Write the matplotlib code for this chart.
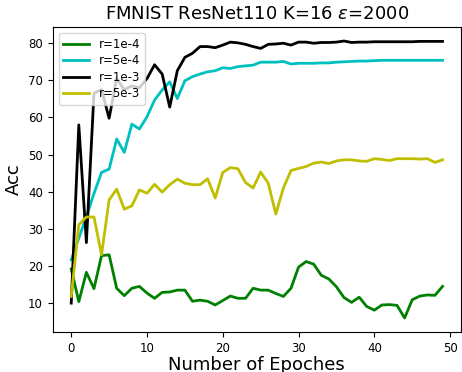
import matplotlib
matplotlib.use("Agg")
import matplotlib.pyplot as plt
import numpy as np

epochs=np.arange(50)

acc_1e4=[19.2,10.4,18.3,13.9,22.8,23.0,14.0,12.0,14.0,14.5,
         12.7,11.3,12.9,13.0,13.5,13.5,10.5,10.8,10.5,9.5,
         10.7,11.9,11.3,11.3,14.0,13.5,13.5,12.6,11.8,14.0,
         19.7,21.2,20.5,17.5,16.5,14.4,11.5,10.2,11.6,9.1,
         8.1,9.5,9.6,9.4,6.0,10.9,11.9,12.2,12.1,14.5]
acc_5e4=[21.7,27.5,33.3,39.5,45.2,46.1,54.2,50.6,58.2,56.9,
         60.2,64.7,67.4,69.6,65.1,69.9,71.0,71.7,72.3,72.6,
         73.4,73.2,73.7,73.9,74.1,74.9,74.9,74.9,75.1,74.4,
         74.6,74.6,74.6,74.7,74.7,74.9,75.0,75.1,75.2,75.2,
         75.3,75.4,75.4,75.4,75.4,75.4,75.4,75.4,75.4,75.4]
acc_1e3=[10.0,58.0,26.3,66.5,67.5,59.8,70.5,67.5,68.5,68.0,
         70.5,74.2,71.7,62.8,72.6,76.2,77.3,79.1,79.1,78.8,
         79.5,80.3,80.1,79.7,79.1,78.6,79.7,79.8,80.0,79.5,
         80.3,80.3,80.0,80.2,80.2,80.3,80.6,80.2,80.3,80.3,
         80.4,80.4,80.4,80.4,80.4,80.4,80.5,80.5,80.5,80.5]
acc_5e3=[11.8,31.1,33.2,33.2,23.0,37.8,40.7,35.3,36.2,40.5,
         39.6,42.0,39.9,41.9,43.4,42.3,41.9,41.9,43.5,38.3,
         45.2,46.5,46.2,42.5,41.0,45.3,42.3,34.0,41.0,45.7,
         46.3,46.8,47.7,48.0,47.6,48.3,48.6,48.6,48.3,48.2,
         48.9,48.7,48.4,48.9,48.9,48.9,48.8,48.9,47.9,48.6]

series=[("r=1e-4",acc_1e4,"g"),("r=5e-4",acc_5e4,"c"),
        ("r=1e-3",acc_1e3,"k"),("r=5e-3",acc_5e3,"y")]

fig=plt.figure(figsize=(4.62,3.72),dpi=100)
ax=fig.add_axes([0.114,0.108,0.884,0.819])
for label,values,color in series:
    ax.plot(epochs,values,color=color,linewidth=2.0,label=label)
ax.set_title("FMNIST ResNet110 K=16 $\\epsilon$=2000",fontsize=13)
ax.set_xlabel("Number of Epoches",fontsize=13,labelpad=1)
ax.set_ylabel("Acc",fontsize=13)
ax.tick_params(labelsize=8.5)
ax.legend(loc="upper left",fontsize=8.5,labelspacing=0.3,handlelength=2.2)
fig.savefig("out.png",dpi=100)
